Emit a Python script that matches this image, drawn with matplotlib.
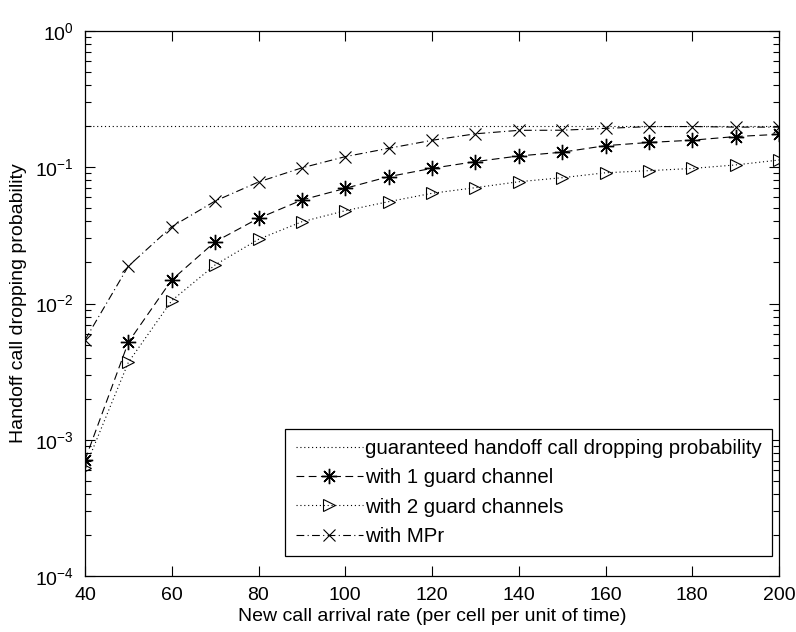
import matplotlib
matplotlib.use("Agg")
import matplotlib.pyplot as plt
from matplotlib.ticker import LogLocator, NullFormatter

plt.rcParams['font.family'] = ['Liberation Sans', 'DejaVu Sans']
plt.rcParams['mathtext.fontset'] = 'custom'
plt.rcParams['mathtext.rm'] = 'Liberation Sans'
plt.rcParams['mathtext.default'] = 'regular'

# ---- data ----
arrival_rate = [40, 50, 60, 70, 80, 90, 100, 110, 120, 130, 140, 150, 160, 170, 180, 190, 200]
guaranteed = [0.2] * len(arrival_rate)
one_guard = [7.1e-4, 0.0052, 0.0149, 0.0284, 0.0422, 0.0575, 0.070, 0.0853, 0.0982,
             0.110, 0.121, 0.129, 0.144, 0.152, 0.158, 0.168, 0.1745]
two_guard = [6.2e-4, 0.0037, 0.0105, 0.0192, 0.0296, 0.0398, 0.048, 0.0559, 0.0644,
             0.0708, 0.0783, 0.0838, 0.0911, 0.0944, 0.098, 0.104, 0.113]
mpr = [0.0054, 0.0188, 0.0366, 0.0565, 0.078, 0.099, 0.1196, 0.1377, 0.1577,
       0.176, 0.1866, 0.187, 0.193, 0.1986, 0.199, 0.197, 0.197]
x_ticks = [40, 60, 80, 100, 120, 140, 160, 180, 200]
labels = ["guaranteed handoff call dropping probability", "with 1 guard channel",
          "with 2 guard channels", "with MPr"]
xlabel = "New call arrival rate (per cell per unit of time)"
ylabel = "Handoff call dropping probability"

W, H = 796, 632
fig = plt.figure(figsize=(W / 100, H / 100), dpi=100)
ax = fig.add_axes([85 / W, (H - 576) / H, 694 / W, 545 / H])

lw = 0.8
ax.plot(arrival_rate, guaranteed, linestyle=(0, (1, 2.5)), color='black', linewidth=lw,
        label=labels[0])
ax.plot(arrival_rate, one_guard, linestyle=(0, (7, 4)), color='black', linewidth=lw,
        marker=(8, 2, 0), markersize=11, markeredgewidth=1.0, label=labels[1])
ax.plot(arrival_rate, two_guard, linestyle=(0, (1, 2.5)), color='black', linewidth=lw,
        marker='>', markersize=9, markerfacecolor='none', markeredgewidth=0.8,
        label=labels[2])
ax.plot(arrival_rate, mpr, linestyle=(0, (7, 3, 1, 3)), color='black', linewidth=lw,
        marker='x', markersize=8, markeredgewidth=0.8, label=labels[3])

ax.set_yscale('log')
ax.set_xlim(40, 200)
ax.set_ylim(1e-4, 1e0)
ax.set_xticks(x_ticks)
ax.set_xticklabels([str(v) for v in x_ticks])
ax.yaxis.set_major_locator(LogLocator(base=10, numticks=10))
ax.yaxis.set_minor_locator(LogLocator(base=10, subs=range(2, 10), numticks=50))
ax.yaxis.set_minor_formatter(NullFormatter())

fs = 14
ax.tick_params(axis='both', which='major', direction='in', length=7, width=0.8,
               top=True, right=True, labelsize=fs, pad=8)
ax.tick_params(axis='y', which='minor', direction='in', length=4, width=0.8,
               left=True, right=True)
ax.tick_params(axis='x', which='minor', bottom=False, top=False)
for s in ax.spines.values():
    s.set_linewidth(0.9)

ax.set_xlabel(xlabel, fontsize=fs, labelpad=3)
ax.set_ylabel(ylabel, fontsize=fs, labelpad=6)

leg = ax.legend(loc='lower right', bbox_to_anchor=((772 - 85) / 694, (576 - 556) / 545),
                fontsize=14.7, frameon=True, fancybox=False, framealpha=1,
                edgecolor='black', numpoints=1, handlelength=3.3, handletextpad=0.1,
                borderpad=0.5, labelspacing=0.5, borderaxespad=0)
leg.get_frame().set_linewidth(0.9)

fig.savefig("out.png", dpi=100)
